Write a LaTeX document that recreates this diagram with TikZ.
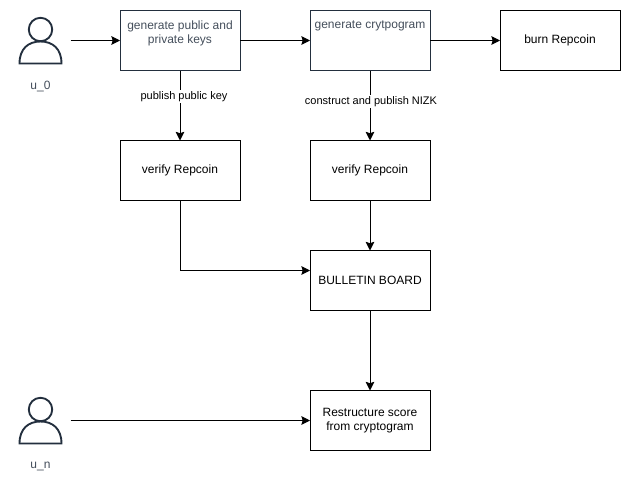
\documentclass[tikz,border=0pt]{standalone}
\usepackage{fontspec}
\setmainfont{Liberation Sans}
\usetikzlibrary{positioning,arrows.meta}
\definecolor{navy}{HTML}{232F3E}
\newcommand{\toptext}[1]{\parbox[c][42pt][t]{88pt}{\vspace*{6.5pt}\centering #1}}
\begin{document}
\begin{tikzpicture}[x=0.75pt,y=-0.75pt,
    node distance=52.5pt,
    every node/.style={font=\fontsize{9}{10.5}\selectfont,outer sep=0pt},
    block/.style={draw,line width=0.75pt,minimum width=90pt,minimum height=45pt,inner sep=0pt,align=center},
    navyblock/.style={block,draw=navy,text=navy!85!white},
    user/.style={minimum width=45pt,minimum height=45pt,inner sep=0pt},
    usertext/.style={text=navy!85!white},
    edgetext/.style={fill=white,inner sep=1pt,font=\fontsize{8.25}{10}\selectfont},
    link/.style={line width=0.75pt,-{Stealth[length=6.5pt,width=6.5pt,inset=1pt]}},
    icon/.style={draw=navy,line width=1.4pt},
  ]
\useasboundingbox (0,0) rectangle (631,482);
\node[user] (user0) at (40.5,40.5) {};
\node[usertext,below=5pt of user0] (label0) {u\_0};
\node[navyblock,right=37.125pt of user0] (keys) {\toptext{generate public and\\private keys}};
\node[navyblock,right=of keys] (crypt) {\toptext{generate crytpogram}};
\node[block,right=of crypt] (burn) {burn Repcoin};
\node[block,below=of keys] (verifya) {verify Repcoin};
\node[block,below=of crypt] (verifyb) {verify Repcoin};
\node[block,below=37.5pt of verifyb] (board) {BULLETIN BOARD};
\node[block,below=60pt of board] (restruct) {Restructure score\\from cryptogram};
\node[user] (usern) at (user0 |- restruct) {};
\node[usertext,below=5pt of usern] (labeln) {u\_n};

% person icons
\foreach \who in {user0,usern}{
  \draw[icon] ([yshift=8.25pt]\who.center) circle (8.8pt);
  \draw[icon] ([xshift=-15.75pt,yshift=-17.25pt]\who.center) -- ([xshift=15.75pt,yshift=-17.25pt]\who.center)
    .. controls ([xshift=15.75pt,yshift=-6pt]\who.center) and ([xshift=9pt,yshift=-0.75pt]\who.center) .. ([yshift=-0.75pt]\who.center)
    .. controls ([xshift=-9pt,yshift=-0.75pt]\who.center) and ([xshift=-15.75pt,yshift=-6pt]\who.center) .. cycle;
}

\draw[link] (user0) -- (keys);
\draw[link] (keys) -- (crypt);
\draw[link] (crypt) -- (burn);
\draw[link] (keys) -- node[edgetext,pos=.37,xshift=3pt] (labelkey) {publish public key} (verifya);
\draw[link] (crypt) -- node[edgetext,pos=.44,xshift=.75pt] (labelnizk) {construct and publish NIZK} (verifyb);
\draw[link] (verifya) |- ([yshift=7.5pt]board.west);
\draw[link] (verifyb) -- (board);
\draw[link] (board) -- (restruct);
\draw[link] (usern) -- (restruct);
\end{tikzpicture}
\end{document}
